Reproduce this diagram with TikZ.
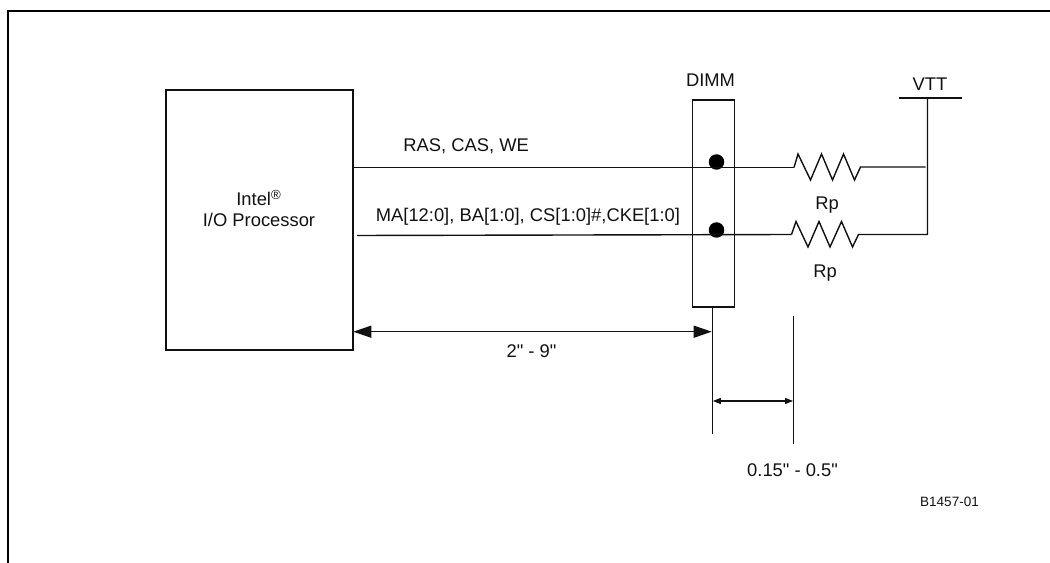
\documentclass[tikz,border=0pt]{standalone}
\usepackage{fontspec}
\newfontfamily\lblfont{Liberation Sans}
\usetikzlibrary{arrows.meta,positioning}
\definecolor{inkline}{HTML}{111111}
\tikzset{
  wire/.style={draw=inkline, line width=0.8pt},
  dimline/.style={draw=inkline, line width=0.6pt},
  bigdim/.style={wire, {Triangle[length=0.36cm,width=0.24cm]}-{Triangle[length=0.36cm,width=0.24cm]}},
  smalldim/.style={dimline, {Triangle[length=0.16cm,width=0.12cm]}-{Triangle[length=0.16cm,width=0.12cm]}},
  lbl/.style={inner sep=0pt, font=\lblfont\fontsize{10.45}{12}\selectfont, text=inkline, align=center},
  contact/.style={circle, fill=black, inner sep=0pt, minimum size=0.31cm},
}

\begin{document}
\begin{tikzpicture}[x=0.02cm, y=-0.02cm]
  \useasboundingbox (0,0) rectangle (1050,563);
  % outer frame, open towards the page edge
  \draw[line width=1.2pt, line cap=butt] (8,563) -- (8,11) -- (1050,11);

  \node[wire, minimum width=3.74cm, minimum height=5.2cm, inner sep=0pt] (proc) at (259.5,220) {};
  \node[lbl] (proctxt) at (259,208.5) {Intel\textsuperscript{\fontsize{7.5}{9}\selectfont ®}\\I/O Processor};
  \node[wire, minimum width=0.84cm, minimum height=4.14cm, inner sep=0pt] (dimm) at (713.5,203.5) {};
  \node[lbl] (dimmtxt) at (710.5,80) {DIMM};

  \node[contact] (dotA) at (716.5,162) {};
  \node[contact] (dotB) at (716.5,230) {};

  \coordinate (rAin) at (794,167.5);
  \coordinate (rAout) at (860.5,167);
  \coordinate (rBin) at (791.5,234.5);
  \coordinate (rBout) at (858.5,234.5);
  \coordinate (railA) at (925.5,167);
  \coordinate (railB) at (927.5,234.5);
  \coordinate (vttbus) at (927.5,98);
  \coordinate (vttL) at (899,98);
  \coordinate (vttR) at (962,98);
  \coordinate (lineBstart) at (357,235.5);

  % signal lines
  \draw[wire] (proc.east |- rAin) -- (rAin);
  \draw[wire] (lineBstart) -- (rBin);
  \node[lbl, anchor=base west] (sigA) at (403,152) {RAS, CAS, WE};
  \node[lbl, anchor=base west] (sigB) at (375.5,221.5) {MA[12:0], BA[1:0], CS[1:0]\#,CKE[1:0]};

  % resistors
  \draw[wire, line join=miter] (rAin) -- ++(4,-13.5) -- ++(12.5,26) -- ++(11,-26) -- ++(11,26)
    -- ++(11,-26) -- ++(11,26) -- (rAout) -- (railA);
  \draw[wire, line join=miter] (rBin) -- ++(4.5,-13) -- ++(12,25.5) -- ++(11,-25.5) -- ++(11,25.5)
    -- ++(11.5,-25.5) -- ++(11,25.5) -- (rBout) -- (railB) -- (vttbus);
  \draw[wire] (vttL) -- (vttR);
  \node[lbl] (rpA) at (827,205) {Rp};
  \node[lbl] (rpB) at (825,273) {Rp};
  \node[lbl] (vtt) at (930,84) {VTT};

  % dimensions
  \coordinate (tickAtop) at (712.3,307);
  \coordinate (tickAbot) at (712.3,434);
  \coordinate (tickBtop) at (793.3,316);
  \coordinate (tickBbot) at (793.3,444);
  \draw[dimline] (tickAtop) -- (tickAbot);
  \draw[dimline] (tickBtop) -- (tickBbot);
  \coordinate (procdim) at (353.3,331.7);
  \coordinate (dimmdim) at (711.7,331.7);
  \draw[bigdim] (procdim) -- (dimmdim);
  \coordinate (shortL) at (712.8,401);
  \coordinate (shortR) at (793,401);
  \draw[smalldim] (shortL) -- (shortR);
  \node[lbl] (farlen) at (531.5,351) {2" - 9"};
  \node[lbl] (nearlen) at (792.5,470) {0.15" - 0.5"};
  \node[lbl, font=\lblfont\fontsize{7.7}{9}\selectfont] (figid) at (949.5,501.5) {B1457-01};
\end{tikzpicture}
\end{document}
